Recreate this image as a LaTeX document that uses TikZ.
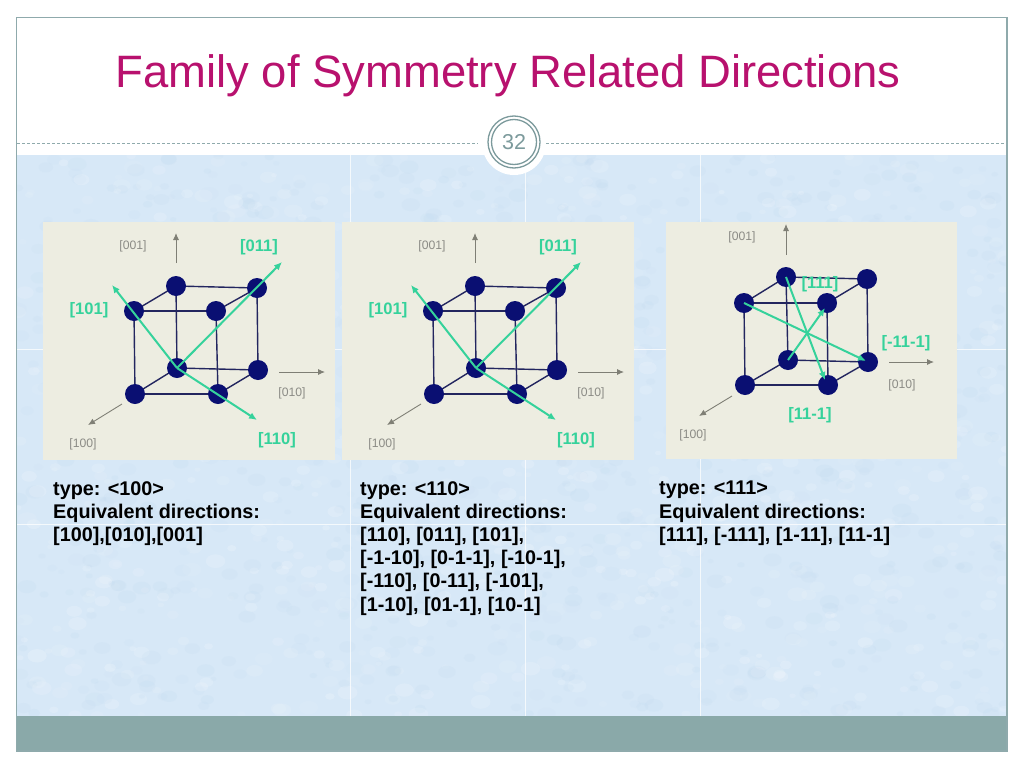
\documentclass[tikz,border=0pt]{standalone}
\usepackage{fontspec}
\setmainfont{Liberation Sans}
\usetikzlibrary{arrows.meta}
\definecolor{titlecol}{HTML}{B8116E}
\definecolor{framecol}{HTML}{8FAAAC}
\definecolor{barcol}{HTML}{8AA9A9}
\definecolor{skyback}{HTML}{D7E8F7}
\definecolor{skydark}{HTML}{BDD7EE}
\definecolor{panelcol}{HTML}{EDEDE1}
\definecolor{atomcol}{HTML}{0A0F72}
\definecolor{edgecol}{HTML}{23265F}
\definecolor{greencol}{HTML}{35D29B}
\definecolor{axiscol}{HTML}{7F7F75}
\definecolor{axistext}{HTML}{8C8C86}
\definecolor{ringcol}{HTML}{7C9A9C}
\tikzset{
  atom/.style={circle,fill=atomcol,draw=none,minimum size=20pt,inner sep=0pt},
  edgeline/.style={draw=edgecol,line width=1.4pt},
  greenarrow/.style={draw=greencol,line width=2pt,-{Latex[length=8pt,width=7pt]}},
  axisarrow/.style={draw=axiscol,line width=0.9pt,-{Latex[length=7pt,width=6pt]}},
  axislabel/.style={text=axistext,font=\fontsize{12.2}{14}\selectfont,inner sep=0pt},
  greenlabel/.style={text=greencol,font=\fontsize{16.6}{19}\selectfont\bfseries,inner sep=0pt},
  body/.style={anchor=north west,align=left,inner sep=0pt,font=\fontsize{19.8}{23.2}\selectfont\bfseries,text=black},
  panelbox/.style={fill=panelcol,draw=none},
  gridline/.style={draw=white,line width=0.8pt,opacity=0.75},
  dashrule/.style={draw=framecol,line width=0.9pt,densely dashed}
}
\begin{document}
\begin{tikzpicture}[x=1pt,y=-1pt]
\useasboundingbox (0,0) rectangle (1024,768);
\fill[white] (0,0) rectangle (1024,768);
% textured field
\fill[skyback] (17,155) rectangle (1007,716);
\pgfmathsetseed{32}
\begin{scope}
\clip (17,155) rectangle (1007,716);
\foreach \i in {1,...,1800}{
  \pgfmathsetmacro{\px}{17+990*rnd}
  \pgfmathsetmacro{\py}{155+561*rnd}
  \pgfmathsetmacro{\pr}{3+7*rnd}
  \pgfmathsetmacro{\pa}{0.06+0.12*rnd}
  \pgfmathsetmacro{\pk}{rnd}
  \ifdim\pk pt<0.5pt
    \fill[white,opacity=\pa] (\px,\py) ellipse [x radius=\pr,y radius=0.7*\pr];
  \else
    \fill[skydark,opacity=\pa] (\px,\py) ellipse [x radius=\pr,y radius=0.7*\pr];
  \fi
}
\end{scope}
\foreach \gx in {350,525,700}{\draw[gridline] (\gx,155) -- (\gx,716);}
\foreach \gy in {349,524}{\draw[gridline] (17,\gy) -- (1007,\gy);}
% bottom bar and frame
\fill[barcol] (17,716) rectangle (1007,751);
\draw[framecol,line width=1.4pt] (16.7,17.5) rectangle (1007,751);
% title
\node[text=titlecol,font=\fontsize{45.4}{52}\selectfont,inner sep=0pt] (title) at (508,76) {Family of Symmetry Related Directions};
% header rule
\coordinate (ruleL) at (17,143);
\coordinate (ruleLe) at (478,143);
\coordinate (ruleRs) at (546,143);
\coordinate (ruleR) at (1007,143);
\draw[dashrule] (ruleL) -- (ruleLe);
\draw[dashrule] (ruleRs) -- (ruleR);
% badge
\fill[white] (514,143) circle (32);
\node[circle,draw=ringcol,line width=1.3pt,minimum size=52pt,inner sep=0pt,fill=white] (ringo) at (514,142) {};
\node[circle,draw=ringcol,line width=1.3pt,minimum size=45pt,inner sep=0pt,text=ringcol,font=\fontsize{21.5}{24}\selectfont] (ringi) at (514,142) {32};
% panels
\fill[panelbox] (43,222) rectangle (335,460);
\fill[panelbox] (342,222) rectangle (634,460);
\fill[panelbox] (666,222) rectangle (957,459);
% ---------- panels A and B
\foreach \pf/\dx in {a/0,b/299}{
\begin{scope}[shift={(\dx,0)}]
  \foreach \s/\sx/\sy/\t/\tx/\ty in {btl/176/286/btr/257/288,btr/257/288/bbr/258/370,bbl/177/368/bbr/258/370,btl/176/286/bbl/177/368,ftl/134/311/ftr/216/311,ftr/216/311/fbr/218/394,fbl/135/394/fbr/218/394,ftl/134/311/fbl/135/394,btl/176/286/ftl/134/311,btr/257/288/ftr/216/311,bbl/177/368/fbl/135/394,bbr/258/370/fbr/218/394}
    {\coordinate (\pf p\s) at (\sx,\sy); \coordinate (\pf p\t) at (\tx,\ty); \draw[edgeline] (\pf p\s) -- (\pf p\t);}
  \node[atom] (\pf btl) at (176,286) {};
  \node[atom] (\pf btr) at (257,288) {};
  \node[atom] (\pf ftl) at (134,311) {};
  \node[atom] (\pf ftr) at (216,311) {};
  \node[atom] (\pf bbl) at (177,368) {};
  \node[atom] (\pf bbr) at (258,370) {};
  \node[atom] (\pf fbl) at (135,394) {};
  \node[atom] (\pf fbr) at (218,394) {};
  \coordinate (\pf o11) at (282,262);
  \coordinate (\pf o01) at (112,285);
  \coordinate (\pf o10) at (257,420);
  \draw[greenarrow] (\pf bbl.center) -- (\pf o11);
  \draw[greenarrow] (\pf bbl.center) -- (\pf o01);
  \draw[greenarrow] (\pf bbl.center) -- (\pf o10);
  \coordinate (\pf zs) at (176,263); \coordinate (\pf ze) at (176,233);
  \coordinate (\pf ys) at (279,372); \coordinate (\pf ye) at (325,372);
  \coordinate (\pf xs) at (122,404); \coordinate (\pf xe) at (88,425);
  \draw[axisarrow] (\pf zs) -- (\pf ze);
  \draw[axisarrow] (\pf ys) -- (\pf ye);
  \draw[axisarrow] (\pf xs) -- (\pf xe);
  \node[axislabel] (\pf l001) at (133,246) {[001]};
  \node[axislabel] (\pf l010) at (292,393) {[010]};
  \node[axislabel] (\pf l100) at (83,444) {[100]};
  \node[greenlabel] (\pf l011) at (259,247) {[011]};
  \node[greenlabel] (\pf l101) at (89,310) {[101]};
  \node[greenlabel] (\pf l110) at (277,440) {[110]};
\end{scope}}
% ---------- panel C
\foreach \s/\sx/\sy/\t/\tx/\ty in {btl/786/277/btr/867/279,btr/867/279/bbr/868/362,bbl/788/360/bbr/868/362,btl/786/277/bbl/788/360,ftl/744/303/ftr/827/303,ftr/827/303/fbr/828/385,fbl/745/385/fbr/828/385,ftl/744/303/fbl/745/385,btl/786/277/ftl/744/303,btr/867/279/ftr/827/303,bbl/788/360/fbl/745/385,bbr/868/362/fbr/828/385}
  {\coordinate (cp\s) at (\sx,\sy); \coordinate (cp\t) at (\tx,\ty); \draw[edgeline] (cp\s) -- (cp\t);}
\node[atom] (cbtl) at (786,277) {};
\node[atom] (cbtr) at (867,279) {};
\node[atom] (cftl) at (744,303) {};
\node[atom] (cftr) at (827,303) {};
\node[atom] (cbbl) at (788,360) {};
\node[atom] (cbbr) at (868,362) {};
\node[atom] (cfbl) at (745,385) {};
\node[atom] (cfbr) at (828,385) {};
\node[greenlabel] (cl111) at (820,284) {[111]};
\coordinate (cg1) at (866,361);
\coordinate (cg2) at (825,380);
\coordinate (cg3) at (825,308);
\draw[greenarrow] (cftl.center) -- (cg1);
\draw[greenarrow] (cbtl.center) -- (cg2);
\draw[greenarrow] (cbbl.center) -- (cg3);
\coordinate (czs) at (786,255); \coordinate (cze) at (786,224);
\coordinate (cys) at (889,362); \coordinate (cye) at (934,362);
\coordinate (cxs) at (732,396); \coordinate (cxe) at (699,416);
\draw[axisarrow] (czs) -- (cze);
\draw[axisarrow] (cys) -- (cye);
\draw[axisarrow] (cxs) -- (cxe);
\node[axislabel] (cl001) at (742,237) {[001]};
\node[axislabel] (cl010) at (902,385) {[010]};
\node[axislabel] (cl100) at (693,435) {[100]};
\node[greenlabel] (clm) at (906,343) {[-11-1]};
\node[greenlabel] (cl11m) at (810,415) {[11-1]};
% text blocks
\node[body] (ta) at (53,481) {type: <100>\\Equivalent directions:\\{}[100],[010],[001]};
\node[body] (tb) at (360,481) {type: <110>\\Equivalent directions:\\{}[110], [011], [101],\\{}[-1-10], [0-1-1], [-10-1],\\{}[-110], [0-11], [-101],\\{}[1-10], [01-1], [10-1]};
\node[body] (tc) at (659,481) {type: <111>\\Equivalent directions:\\{}[111], [-111], [1-11], [11-1]};
\end{tikzpicture}
\end{document}
